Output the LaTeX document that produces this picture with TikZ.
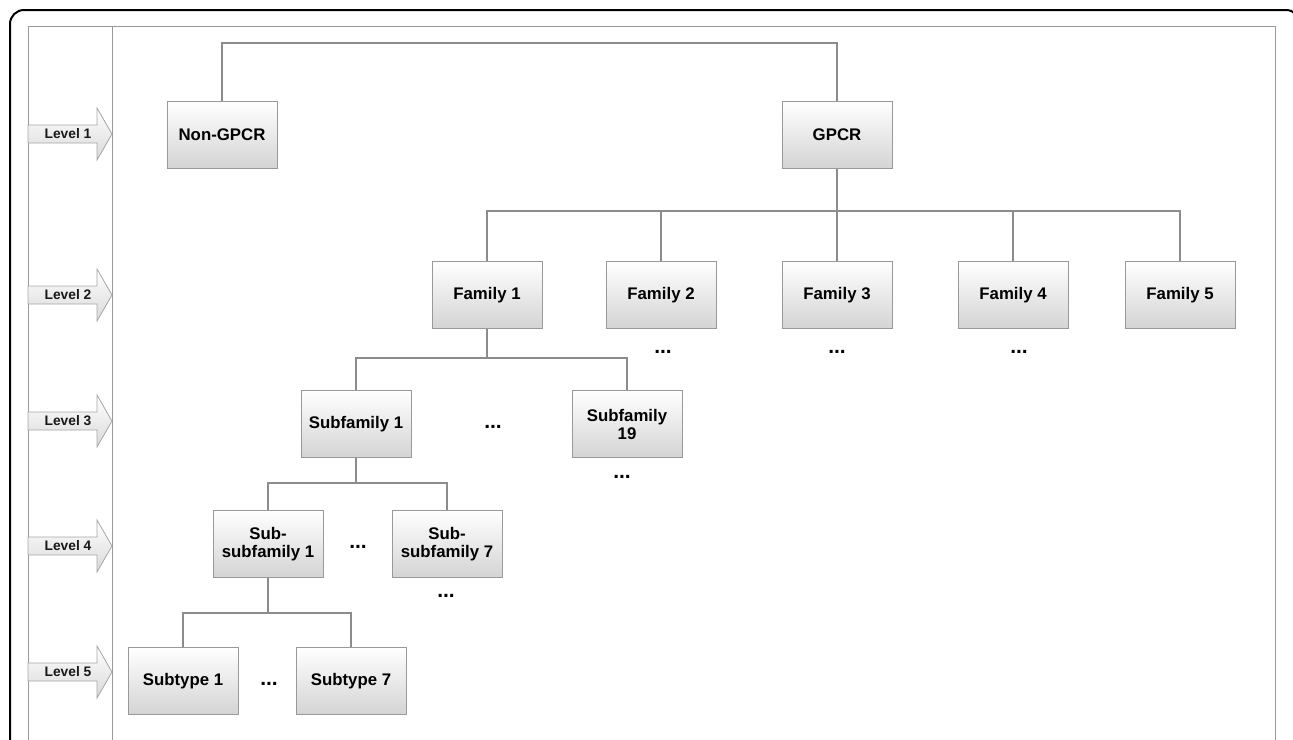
\documentclass[tikz,border=0pt]{standalone}
\usepackage{fontspec}
\setmainfont{Liberation Sans}
\begin{document}
\begin{tikzpicture}[x=1pt,y=-1pt,
  box/.style={draw=black!40, line width=1pt, top color=white, bottom color=black!17,
    minimum width=110pt, minimum height=67pt, inner sep=2pt, align=center,
    font=\fontsize{16.8}{18}\selectfont\bfseries, text=black},
  conn/.style={draw=black!45, line width=1.3pt},
  lvl/.style={draw=black!35, line width=0.8pt, top color=white, bottom color=black!15},
  lvltext/.style={font=\fontsize{13.8}{15}\selectfont\bfseries, text=black!90},
  dots/.style={font=\fontsize{21}{21}\selectfont\bfseries, inner sep=0pt}
]
\useasboundingbox (0,0) rectangle (1293,739);
% frames
\draw[line width=2pt, rounded corners=14pt] (10,760) -- (10,10) -- (1300,10) -- (1300,760);
\draw[black!40, line width=1pt] (28,760) -- (28,26) -- (1275,26) -- (1275,760);
\draw[black!40, line width=1pt] (112,26) -- (112,760);
% level arrows
\foreach \yy/\t in {134/1,295/2,421/3,546/4,672/5}{
  \path[lvl] (28,\yy-9) -- (97,\yy-9) -- (97,\yy-26) -- (112,\yy) -- (97,\yy+26) -- (97,\yy+9) -- (28,\yy+9) -- cycle;
  \node[lvltext] (lv\t) at (68,\yy) {Level \t};
}
% nodes
\node[box] (ngpcr) at (222,135) {Non-GPCR};
\node[box] (gpcr) at (837,135) {GPCR};
\node[box] (f1) at (487,295) {Family 1};
\node[box] (f2) at (661,295) {Family 2};
\node[box] (f3) at (837,295) {Family 3};
\node[box] (f4) at (1013,295) {Family 4};
\node[box] (f5) at (1180,295) {Family 5};
\node[box] (sf1) at (356,424) {Subfamily 1};
\node[box] (sf19) at (627,424) {Subfamily\\19};
\node[box] (ss1) at (268,544) {Sub-\\subfamily 1};
\node[box] (ss7) at (447,544) {Sub-\\subfamily 7};
\node[box] (st1) at (183,681) {Subtype 1};
\node[box] (st7) at (351,681) {Subtype 7};
% dots
\node[dots] (d1) at (663,352) {...};
\node[dots] (d2) at (837,352) {...};
\node[dots] (d3) at (1019,352) {...};
\node[dots] (d4) at (493,427) {...};
\node[dots] (d5) at (622,477) {...};
\node[dots] (d6) at (358,547) {...};
\node[dots] (d7) at (446,596) {...};
\node[dots] (d8) at (269,684) {...};
% connectors
\draw[conn] (ngpcr.north) -- ++(0,-58) -| (gpcr.north);
\draw[conn] (gpcr.south) -- (f3.north);
\draw[conn] (f1.north) |- (837,211) -| (f5.north);
\draw[conn] (f2.north) -- (f2.north |- 0,211);
\draw[conn] (f4.north) -- (f4.north |- 0,211);
\draw[conn] (f1.south) -- (487,358);
\draw[conn] (sf1.north) |- (487,358) -| (sf19.north);
\draw[conn] (sf1.south) -- (356,483);
\draw[conn] (ss1.north) |- (356,483) -| (ss7.north);
\draw[conn] (ss1.south) -- (268,613);
\draw[conn] (st1.north) |- (268,613) -| (st7.north);
\end{tikzpicture}
\end{document}
